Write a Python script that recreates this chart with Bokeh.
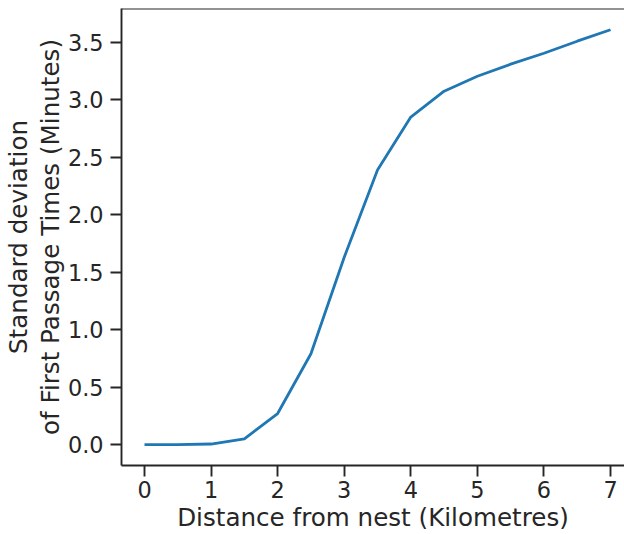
from bokeh.plotting import figure
from bokeh.models import FixedTicker, Range1d, NumeralTickFormatter, Span
from bokeh.embed import file_html
from bokeh.resources import INLINE

# Data
distance_km = [0.0, 0.5, 1.0, 1.5, 2.0, 2.5, 3.0, 3.5, 4.0, 4.5, 5.0, 5.5, 6.0, 6.5, 7.0]
sd_fpt_min = [0.0, 0.0, 0.005, 0.05, 0.27, 0.79, 1.63, 2.39, 2.85, 3.075, 3.205, 3.31, 3.405, 3.51, 3.61]
x_ticks = [0, 1, 2, 3, 4, 5, 6, 7]
y_ticks = [0.0, 0.5, 1.0, 1.5, 2.0, 2.5, 3.0, 3.5]

FONT = "DejaVu Sans"
DARK = "#262626"

p = figure(width=624, height=534, output_backend="svg", toolbar_location=None,
           x_range=Range1d(-0.3455, 7.21), y_range=Range1d(-0.182, 3.7945),
           min_border_left=121, min_border_right=0, min_border_top=8, min_border_bottom=67)
p.outline_line_color = None
p.grid.grid_line_color = None
p.background_fill_color = "white"
p.border_fill_color = "white"

p.line(distance_km, sd_fpt_min, line_color="#1f77b4", line_width=2.8)

top = Span(location=3.7945, dimension="width", line_color=DARK, line_width=2)
p.add_layout(top)

for ax in (p.xaxis[0], p.yaxis[0]):
    ax.axis_line_color = DARK
    ax.axis_line_width = 1.9
    ax.major_tick_line_color = DARK
    ax.major_tick_line_width = 1.9
    ax.major_tick_out = 11
    ax.major_tick_in = 0
    ax.minor_tick_out = 0
    ax.minor_tick_in = 0
    ax.major_label_text_font = FONT
    ax.major_label_text_font_size = "22.4px"
    ax.major_label_text_color = DARK
    ax.axis_label_text_font = FONT
    ax.axis_label_text_font_size = "24.6px"
    ax.axis_label_text_font_style = "normal"
    ax.axis_label_text_color = DARK

p.xaxis[0].ticker = FixedTicker(ticks=x_ticks)
p.yaxis[0].ticker = FixedTicker(ticks=y_ticks)
p.yaxis[0].formatter = NumeralTickFormatter(format="0.0")
p.xaxis[0].major_label_standoff = 4
p.yaxis[0].major_label_standoff = 7
p.xaxis[0].axis_label = "Distance from nest (Kilometres)"
p.yaxis[0].axis_label = "Standard deviation\nof First Passage Times (Minutes)"
p.yaxis[0].axis_label_text_line_height = 1.1
p.xaxis[0].axis_label_standoff = 2
p.yaxis[0].axis_label_standoff = 0

open("out.html", "w").write(file_html(p, INLINE))
